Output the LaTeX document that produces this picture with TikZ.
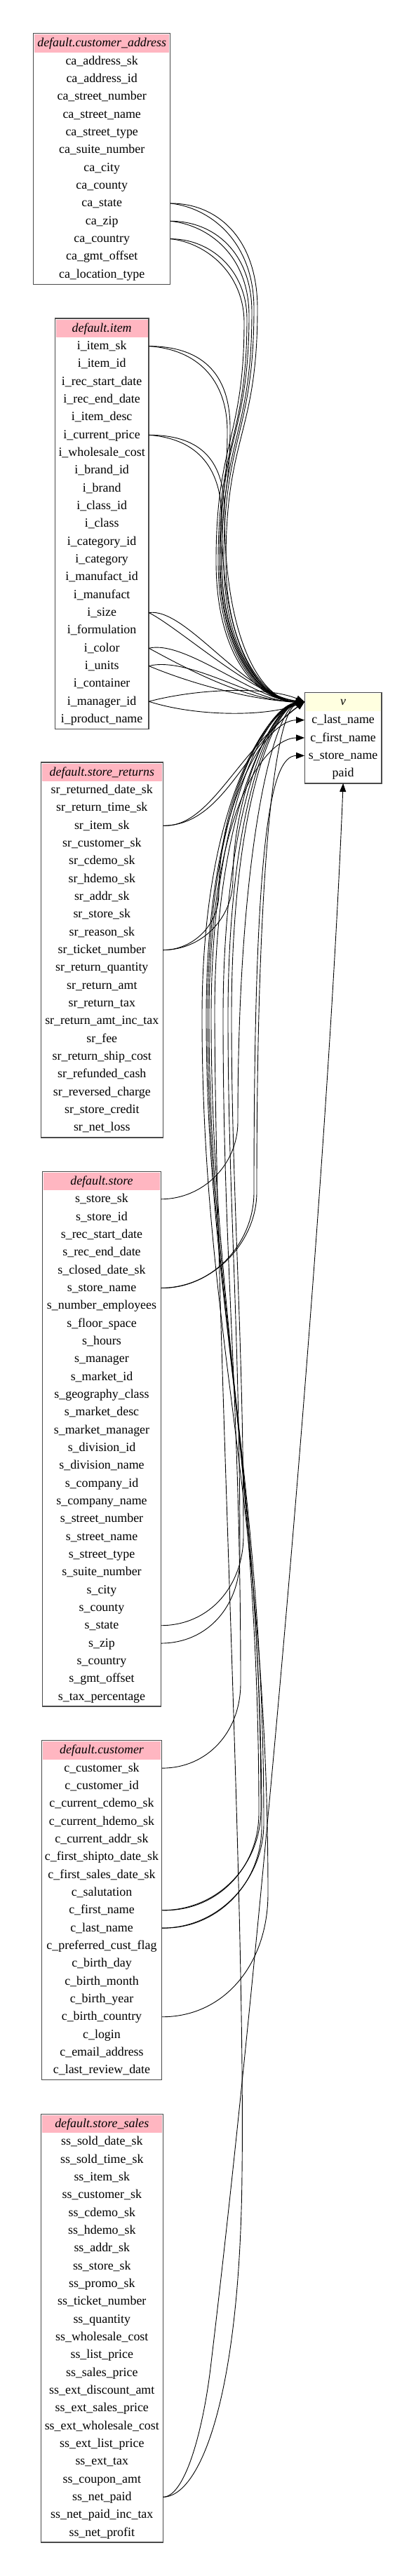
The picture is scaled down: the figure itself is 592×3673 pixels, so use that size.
\documentclass[tikz,border=0pt]{standalone}
\usepackage{fontspec}
\setmainfont{Liberation Serif}
\usetikzlibrary{arrows.meta}
\definecolor{hdrpink}{HTML}{FFB6C1}
\definecolor{vyellow}{HTML}{FFFFE0}
\definecolor{bordergray}{HTML}{4A4A4A}
\newcommand\mktable[7]{%
  % #1 header name, #2 left, #3 right, #4 top, #5 rows, #6 title, #7 row list
  \fill[hdrpink] (#2+1.5,#4+1.5) rectangle (#3-1.5,#4+27);
  \node[rowtext, minimum width={(#3-#2)*1pt}] (#1) at ({(#2+#3)/2},#4+14.2) {\itshape #6};
  \foreach \n [count=\i] in {#7} {
    \node[rowtext, minimum width={(#3-#2)*1pt}] (\n) at ({(#2+#3)/2},{#4+39.6+(\i-1)*25.33}) {\detokenize\expandafter{\n}};
  }
  \draw[tblborder] (#2,#4) rectangle (#3,{#4+53.6+(#5-1)*25.33});
}
\begin{document}
\begin{tikzpicture}[x=1pt,y=-1pt,
  font=\fontsize{17.9}{21}\selectfont,
  rowtext/.style={inner sep=0pt, minimum height=25pt, text height=13pt, text depth=3pt, align=center},
  tblborder/.style={draw=bordergray, line width=1.3pt},
  link/.style={line width=0.9pt, -{Triangle[length=12pt,width=9pt]}}]
\fill[white] (0,0) rectangle (592,3673);
\useasboundingbox (0,0) rectangle (592,3673);

\mktable{ca_hdr}{47.7}{242.7}{47.7}{13}{default.customer\_address}{ca_address_sk, ca_address_id, ca_street_number, ca_street_name, ca_street_type, ca_suite_number, ca_city, ca_county, ca_state, ca_zip, ca_country, ca_gmt_offset, ca_location_type}
\mktable{i_hdr}{78.3}{212}{454}{22}{default.item}{i_item_sk, i_item_id, i_rec_start_date, i_rec_end_date, i_item_desc, i_current_price, i_wholesale_cost, i_brand_id, i_brand, i_class_id, i_class, i_category_id, i_category, i_manufact_id, i_manufact, i_size, i_formulation, i_color, i_units, i_container, i_manager_id, i_product_name}
\mktable{sr_hdr}{58.3}{232.3}{1087}{20}{default.store\_returns}{sr_returned_date_sk, sr_return_time_sk, sr_item_sk, sr_customer_sk, sr_cdemo_sk, sr_hdemo_sk, sr_addr_sk, sr_store_sk, sr_reason_sk, sr_ticket_number, sr_return_quantity, sr_return_amt, sr_return_tax, sr_return_amt_inc_tax, sr_fee, sr_return_ship_cost, sr_refunded_cash, sr_reversed_charge, sr_store_credit, sr_net_loss}
\mktable{s_hdr}{60.7}{229.3}{1670.2}{29}{default.store}{s_store_sk, s_store_id, s_rec_start_date, s_rec_end_date, s_closed_date_sk, s_store_name, s_number_employees, s_floor_space, s_hours, s_manager, s_market_id, s_geography_class, s_market_desc, s_market_manager, s_division_id, s_division_name, s_company_id, s_company_name, s_street_number, s_street_name, s_street_type, s_suite_number, s_city, s_county, s_state, s_zip, s_country, s_gmt_offset, s_tax_percentage}
\mktable{c_hdr}{59.3}{230.7}{2481.5}{18}{default.customer}{c_customer_sk, c_customer_id, c_current_cdemo_sk, c_current_hdemo_sk, c_current_addr_sk, c_first_shipto_date_sk, c_first_sales_date_sk, c_salutation, c_first_name, c_last_name, c_preferred_cust_flag, c_birth_day, c_birth_month, c_birth_year, c_birth_country, c_login, c_email_address, c_last_review_date}
\mktable{ss_hdr}{58.3}{232.3}{3014.2}{23}{default.store\_sales}{ss_sold_date_sk, ss_sold_time_sk, ss_item_sk, ss_customer_sk, ss_cdemo_sk, ss_hdemo_sk, ss_addr_sk, ss_store_sk, ss_promo_sk, ss_ticket_number, ss_quantity, ss_wholesale_cost, ss_list_price, ss_sales_price, ss_ext_discount_amt, ss_ext_sales_price, ss_ext_wholesale_cost, ss_ext_list_price, ss_ext_tax, ss_coupon_amt, ss_net_paid, ss_net_paid_inc_tax, ss_net_profit}

% result table v
\fill[vyellow] (435.8,988.8) rectangle (542.5,1013.8);
\node[rowtext, minimum width=109.7pt] (vhead) at (489.15,1000.7) {\itshape v};
\node[rowtext, minimum width=109.7pt] (vlast) at (489.15,1026.7) {c\_last\_name};
\node[rowtext, minimum width=109.7pt] (vfirst) at (489.15,1052.0) {c\_first\_name};
\node[rowtext, minimum width=109.7pt] (vstore) at (489.15,1077.4) {s\_store\_name};
\node[rowtext, minimum width=109.7pt] (vpaid) at (489.15,1102.7) {paid};
\coordinate (vbottom) at (489.15,1116.9);
\draw[tblborder] (434.3,987.3) rectangle (544,1116.9);

% customer_address -> v
\draw[link] (ca_state.east) .. controls (310,289.9) and (367,340) .. (367,440) .. controls (367,620) and (322,620) .. (322,800) .. controls (322,930) and (380,1000.7) .. (vhead.west);
\draw[link] (ca_state.east) .. controls (300,296) and (362,345) .. (362,440) .. controls (362,620) and (319,620) .. (319,800) .. controls (319,932) and (378,1000.7) .. (vhead.west);
\draw[link] (ca_zip.east) .. controls (305,315.2) and (359,360) .. (359,445) .. controls (359,620) and (316,625) .. (316,800) .. controls (316,934) and (376,1000.7) .. (vhead.west);
\draw[link] (ca_zip.east) .. controls (298,321) and (355,365) .. (355,450) .. controls (355,620) and (313,625) .. (313,800) .. controls (313,936) and (374,1000.7) .. (vhead.west);
\draw[link] (ca_country.east) .. controls (300,340.5) and (352,385) .. (352,455) .. controls (352,625) and (311,630) .. (311,800) .. controls (311,938) and (372,1000.7) .. (vhead.west);
\draw[link] (ca_country.east) .. controls (294,346) and (348,390) .. (348,460) .. controls (348,625) and (308,630) .. (308,800) .. controls (308,940) and (370,1000.7) .. (vhead.west);

% item -> v (looping)
\draw[link] (i_item_sk.east) .. controls (285,493.8) and (328,530) .. (328,610) .. controls (328,700) and (316,700) .. (316,800) .. controls (316,930) and (378,1000.7) .. (vhead.west);
\draw[link] (i_item_sk.east) .. controls (280,498) and (324,540) .. (324,615) .. controls (324,700) and (314,700) .. (314,800) .. controls (314,935) and (376,1000.7) .. (vhead.west);
\draw[link] (i_current_price.east) .. controls (280,620.5) and (320,650) .. (320,730) .. controls (320,920) and (376,1000.7) .. (vhead.west);
\draw[link] (i_current_price.east) .. controls (275,625) and (316,660) .. (316,740) .. controls (316,925) and (372,1000.7) .. (vhead.west);

% item -> v (direct)
\draw[link] (i_size.east) .. controls (265,866) and (345,990) .. (vhead.west);
\draw[link] (i_size.east) .. controls (255,895) and (365,995) .. (vhead.west);
\draw[link] (i_color.east) .. controls (265,912) and (365,1000) .. (vhead.west);
\draw[link] (i_color.east) .. controls (260,950) and (350,1000) .. (vhead.west);
\draw[link] (i_units.east) .. controls (270,935) and (370,1003) .. (vhead.west);
\draw[link] (i_units.east) .. controls (280,978) and (370,1000) .. (vhead.west);
\draw[link] (i_manager_id.east) .. controls (280,982) and (380,978) .. (vhead.west);
\draw[link] (i_manager_id.east) .. controls (280,1022) and (380,1022) .. (vhead.west);

% store_returns -> v
\draw[link] (sr_item_sk.east) .. controls (320,1177.2) and (350,1060) .. (vhead.west);
\draw[link] (sr_item_sk.east) .. controls (300,1180) and (335,1075) .. (vhead.west);
\draw[link] (sr_ticket_number.east) .. controls (276,1354.5) and (312,1318) .. (312,1274) .. controls (312,1130) and (385,1010) .. (vhead.west);
\draw[link] (sr_ticket_number.east) .. controls (287,1354.5) and (332,1310) .. (332,1254) .. controls (332,1130) and (390,1005) .. (vhead.west);

% store -> v
\draw[link] (s_store_sk.east) .. controls (290,1709.6) and (339,1660) .. (339,1600) .. controls (339,1200) and (392,1010) .. (vhead.west);
\draw[link] (s_store_name.east) .. controls (305,1836.3) and (366,1770) .. (366,1700) .. controls (366,1200) and (395,1012) .. (vhead.west);
\draw[link] (s_store_name.east) .. controls (300,1838) and (362,1775) .. (362,1700) .. controls (362,1200) and (385,1077.4) .. (vstore.west);
\draw[link] (s_state.east) .. controls (300,2317.5) and (347,2260) .. (347,2190) .. controls (347,1900) and (330,1700) .. (330,1450) .. controls (330,1150) and (390,1010) .. (vhead.west);
\draw[link] (s_zip.east) .. controls (296,2342.9) and (342,2290) .. (342,2220) .. controls (342,1900) and (325,1700) .. (325,1450) .. controls (325,1150) and (388,1010) .. (vhead.west);

% customer -> v
\draw[link] (c_customer_sk.east) .. controls (295,2521.3) and (343,2470) .. (343,2400) .. controls (343,2000) and (318,1800) .. (318,1450) .. controls (318,1150) and (388,1008) .. (vhead.west);
\draw[link] (c_first_name.east) .. controls (310,2723.9) and (372,2660) .. (372,2580) .. controls (372,2100) and (298,1850) .. (298,1450) .. controls (298,1150) and (380,1052) .. (vfirst.west);
\draw[link] (c_first_name.east) .. controls (308,2726) and (369,2665) .. (369,2585) .. controls (369,2100) and (301,1850) .. (301,1450) .. controls (301,1140) and (385,1006) .. (vhead.west);
\draw[link] (c_last_name.east) .. controls (312,2749.3) and (376,2680) .. (376,2600) .. controls (376,2100) and (294,1850) .. (294,1450) .. controls (294,1140) and (380,1026.7) .. (vlast.west);
\draw[link] (c_last_name.east) .. controls (310,2751) and (373,2685) .. (373,2605) .. controls (373,2100) and (296,1850) .. (296,1450) .. controls (296,1140) and (383,1005) .. (vhead.west);
\draw[link] (c_birth_country.east) .. controls (320,2875.9) and (382,2800) .. (382,2700) .. controls (382,2150) and (288,1900) .. (288,1450) .. controls (288,1140) and (385,1007) .. (vhead.west);

% store_sales -> v
\draw[link] (ss_net_paid.east) .. controls (285,3559.8) and (342,3420) .. (345,3100) .. controls (350,2700) and (308,1900) .. (306,1450) .. controls (305,1150) and (390,1008) .. (vhead.west);
\draw[link] (ss_net_paid.east) .. controls (265,3559.8) and (290,3460) .. (300,3377) .. controls (372,2777) and (465,1717) .. (vbottom);
\end{tikzpicture}
\end{document}
